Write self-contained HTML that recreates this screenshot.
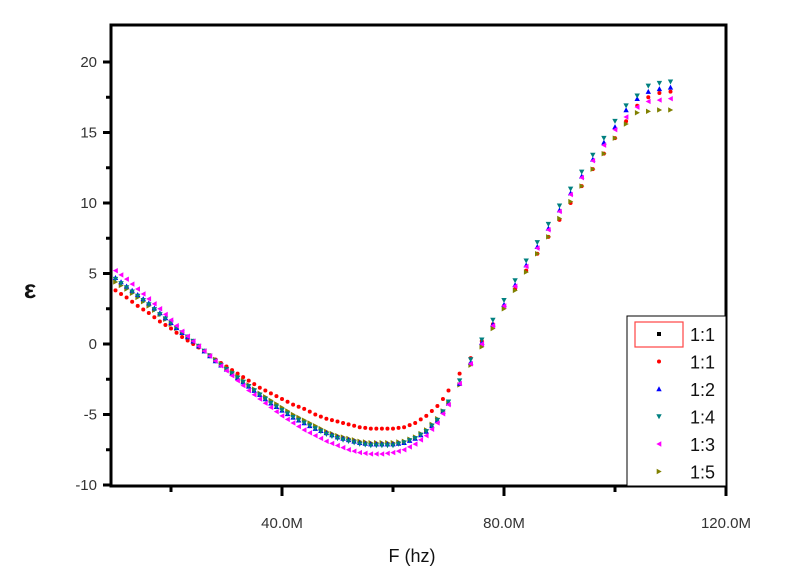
<!DOCTYPE html>
<html><head><meta charset="utf-8">
<style>
body{margin:0;background:#fff;}
svg{display:block;font-family:"Liberation Sans",sans-serif;}
</style></head>
<body>
<svg id="chart" width="800" height="569" viewBox="0 0 800 569">
  <rect x="0" y="0" width="800" height="569" fill="#fff"/>
  <g id="marks"></g>
  <g id="axes"></g>
</svg>
<script>
const xValues=[10,11,12,13,14,15,16,17,18,19,20,21,22,23,24,25,26,27,28,29,30,31,32,33,34,35,36,37,38,39,40,41,42,43,44,45,46,47,48,49,50,51,52,53,54,55,56,57,58,59,60,61,62,63,64,65,66,67,68,69,70,72,74,76,78,80,82,84,86,88,90,92,94,96,98,100,102,104,106,108,110];
const red=[3.8,3.55,3.3,3.0,2.7,2.45,2.2,1.9,1.6,1.35,
1.1,0.8,0.5,0.25,0,-0.25,-0.5,-0.8,-1.1,-1.35,
-1.6,-1.85,-2.1,-2.35,-2.6,-2.85,-3.1,-3.3,-3.5,-3.7,
-3.9,-4.1,-4.3,-4.45,-4.6,-4.8,-5.0,-5.15,-5.3,-5.4,
-5.5,-5.6,-5.7,-5.8,-5.9,-5.95,-6.0,-6.0,-6.0,-6.0,
-6.0,-5.95,-5.9,-5.75,-5.6,-5.35,-5.1,-4.75,-4.4,-3.9,
-3.3,
-2.1,-1.0,0.2,1.4,2.7,3.9,5.2,6.4,7.6,8.8,10.0,11.2,12.4,13.5,14.6,15.8,16.9,17.5,17.8,17.9];
const blue=[4.7,4.4,4.1,3.8,3.5,3.2,2.9,2.55,2.2,1.85,
1.5,1.15,0.8,0.5,0.2,-0.15,-0.5,-0.85,-1.2,-1.5,
-1.8,-2.1,-2.4,-2.7,-3.0,-3.3,-3.6,-3.9,-4.2,-4.45,
-4.7,-4.95,-5.2,-5.4,-5.6,-5.8,-6.0,-6.15,-6.3,-6.45,
-6.6,-6.7,-6.8,-6.9,-7.0,-7.05,-7.1,-7.1,-7.1,-7.1,
-7.1,-7.05,-7.0,-6.85,-6.7,-6.45,-6.2,-5.8,-5.4,-4.8,
-4.2,
-2.8,-1.3,0.1,1.4,2.8,4.2,5.6,6.9,8.2,9.5,10.7,11.9,13.1,14.3,15.4,16.6,17.4,17.9,18.1,18.2];
const teal=[4.6,4.3,4.0,3.7,3.4,3.1,2.8,2.45,2.1,1.8,
1.5,1.15,0.8,0.5,0.2,-0.15,-0.5,-0.85,-1.2,-1.5,
-1.8,-2.1,-2.4,-2.7,-3.0,-3.3,-3.6,-3.9,-4.2,-4.45,
-4.7,-4.95,-5.2,-5.4,-5.6,-5.8,-6.0,-6.2,-6.4,-6.55,
-6.7,-6.8,-6.9,-7.0,-7.1,-7.15,-7.2,-7.2,-7.2,-7.2,
-7.2,-7.1,-7.0,-6.85,-6.7,-6.45,-6.2,-5.8,-5.4,-4.8,
-4.1,
-2.6,-1.1,0.3,1.7,3.1,4.5,5.9,7.2,8.5,9.8,11.0,12.2,13.4,14.6,15.8,16.9,17.6,18.3,18.5,18.6];
const magenta=[5.2,4.9,4.6,4.25,3.9,3.55,3.2,2.85,2.5,2.1,
1.7,1.3,0.9,0.55,0.2,-0.15,-0.5,-0.85,-1.2,-1.55,
-1.9,-2.25,-2.6,-2.95,-3.3,-3.6,-3.9,-4.2,-4.5,-4.8,
-5.1,-5.35,-5.6,-5.85,-6.1,-6.3,-6.5,-6.7,-6.9,-7.05,
-7.2,-7.35,-7.5,-7.6,-7.7,-7.75,-7.8,-7.8,-7.8,-7.75,
-7.7,-7.6,-7.5,-7.3,-7.1,-6.8,-6.5,-6.05,-5.6,-4.95,
-4.3,
-2.8,-1.4,0.0,1.3,2.7,4.1,5.5,6.8,8.1,9.4,10.6,11.8,13.0,14.1,15.2,16.1,16.8,17.2,17.3,17.4];
const olive=[4.4,4.15,3.9,3.6,3.3,3.0,2.7,2.4,2.1,1.75,
1.4,1.1,0.8,0.5,0.2,-0.15,-0.5,-0.8,-1.1,-1.4,
-1.7,-2.0,-2.3,-2.6,-2.9,-3.2,-3.5,-3.75,-4.0,-4.25,
-4.5,-4.75,-5.0,-5.2,-5.4,-5.6,-5.8,-6.0,-6.2,-6.35,
-6.5,-6.6,-6.7,-6.8,-6.9,-6.95,-7.0,-7.0,-7.0,-7.0,
-7.0,-6.95,-6.9,-6.75,-6.6,-6.35,-6.1,-5.7,-5.3,-4.75,
-4.2,
-2.9,-1.5,-0.2,1.1,2.5,3.8,5.1,6.4,7.6,8.9,10.1,11.2,12.4,13.5,14.6,15.6,16.4,16.5,16.6,16.6];
const xTicks=[40,80,120];
const xTickLabels=["40.0M","80.0M","120.0M"];
const yTicks=[-10,-5,0,5,10,15,20];
const legendLabels=["1:1","1:1","1:2","1:4","1:3","1:5"];

const NS="http://www.w3.org/2000/svg";
const L=111,R=726,T=25,B=486;
function xs(v){return 60+v*5.55;}
function ys(v){return 344-v*14.1;}
function mk(tag,attrs,parent){const e=document.createElementNS(NS,tag);for(const k in attrs)e.setAttribute(k,attrs[k]);parent.appendChild(e);return e;}
function marker(type,x,y,color,parent){
  let e;
  if(type==='sq') e=mk('rect',{x:x-2,y:y-2,width:4,height:4,fill:color},parent);
  else if(type==='dot') e=mk('circle',{cx:x,cy:y,r:2,fill:color},parent);
  else if(type==='up') e=mk('polygon',{points:`${x-2.7},${y+2.3} ${x+2.7},${y+2.3} ${x},${y-2.7}`,fill:color},parent);
  else if(type==='down') e=mk('polygon',{points:`${x-2.7},${y-2.3} ${x+2.7},${y-2.3} ${x},${y+2.7}`,fill:color},parent);
  else if(type==='left') e=mk('polygon',{points:`${x+2.3},${y-2.7} ${x+2.3},${y+2.7} ${x-2.7},${y}`,fill:color},parent);
  else e=mk('polygon',{points:`${x-2.3},${y-2.7} ${x-2.3},${y+2.7} ${x+2.7},${y}`,fill:color},parent);
  return e;
}
const series=[
  {name:'1-1',data:red,type:'dot',color:'#ff0000'},
  {name:'1-5',data:olive,type:'right',color:'#808000'},
  {name:'1-2',data:blue,type:'up',color:'#0000ff'},
  {name:'1-4',data:teal,type:'down',color:'#008080'},
  {name:'1-3',data:magenta,type:'left',color:'#ff00ff'}
];
const marks=document.getElementById('marks');
series.forEach(s=>{
  const g=mk('g',{},marks);
  
  
  s.data.forEach((v,i)=>{
    const m=marker(s.type,xs(xValues[i]),ys(v),s.color,g);
    
    
  });
});
const ax=document.getElementById('axes');
const frame=mk('rect',{x:L,y:T,width:R-L,height:B-T,fill:'none',stroke:'#000','stroke-width':3},ax);


yTicks.forEach(v=>{
  const y=ys(v);
  mk('line',{x1:L-8,x2:L,y1:y,y2:y,stroke:'#000','stroke-width':3},ax);
  const t=mk('text',{x:L-14,y:y+5,'text-anchor':'end','font-size':15,fill:'#333'},ax);
  t.textContent=v;
  
  
  if(v<20){const ym=ys(v+2.5);mk('line',{x1:L-5,x2:L,y1:ym,y2:ym,stroke:'#000','stroke-width':3},ax);}
});
xTicks.forEach((v,i)=>{
  const x=xs(v);
  mk('line',{x1:x,x2:x,y1:B,y2:B+10,stroke:'#000','stroke-width':3},ax);
  const t=mk('text',{x:x,y:B+42,'text-anchor':'middle','font-size':15,fill:'#333'},ax);
  t.textContent=xTickLabels[i];
  
  
  const xm=xs(v-20);
  if(xm>L) mk('line',{x1:xm,x2:xm,y1:B,y2:B+6,stroke:'#000','stroke-width':3},ax);
});
const xt=mk('text',{x:412,y:562,'text-anchor':'middle','font-size':18,fill:'#111'},ax);
xt.textContent='F (hz)';


const yt=mk('text',{x:30,y:298,'text-anchor':'middle','font-size':26,'font-weight':'bold',fill:'#111'},ax);
yt.textContent='ε';


const lg=mk('g',{},ax);


mk('rect',{x:627,y:316,width:99,height:170,fill:'#fff',stroke:'#000','stroke-width':1},lg);
mk('rect',{x:635,y:322,width:48,height:25,fill:'none',stroke:'#ff4444','stroke-width':1.2},lg);
const ltypes=['sq','dot','up','down','left','right'];
const lcolors=['#000','#ff0000','#0000ff','#008080','#ff00ff','#808000'];
legendLabels.forEach((lab,i)=>{
  const y=334+i*27.5;
  const e=mk('g',{},lg);
  
  
  marker(ltypes[i],659,y,lcolors[i],e);
  const t=mk('text',{x:690,y:y+7,'font-size':18,fill:'#111'},e);
  t.textContent=lab;
});
</script>
</body></html>
